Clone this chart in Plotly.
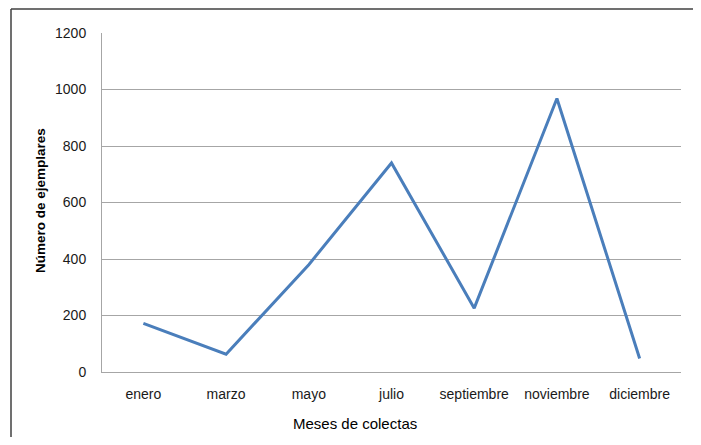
import plotly.graph_objects as go

meses = ["enero", "marzo", "mayo", "julio", "septiembre", "noviembre", "diciembre"]
ejemplares = [172, 63, 380, 740, 226, 968, 48]
y_ticks = [0, 200, 400, 600, 800, 1000, 1200]

W, H = 693, 429
L, R, T, B = 94, 20, 25, 65
pw, ph = W - L - R, H - T - B

def px(x):
    return (x - 8 - L) / pw

def py(y):
    return (H - B - (y - 8)) / ph

fig = go.Figure()
fig.add_trace(go.Scatter(
    x=meses, y=ejemplares, mode="lines",
    line=dict(color="#4A7EBB", width=3),
    showlegend=False,
))

border = dict(color="#404040", width=1.5)
bx0, bx1, by0, by1 = px(11), px(696), py(460), py(9)
shapes = [
    dict(type="line", xref="paper", yref="paper", x0=bx0, x1=bx1, y0=by1, y1=by1, line=border, layer="above"),
    dict(type="line", xref="paper", yref="paper", x0=bx0, x1=bx0, y0=by0, y1=by1, line=border, layer="above"),
    dict(type="line", xref="paper", yref="paper", x0=bx1, x1=bx1, y0=by0, y1=by1, line=border, layer="above"),
]

fig.update_layout(
    width=W, height=H,
    margin=dict(l=L, r=R, t=T, b=B),
    paper_bgcolor="white", plot_bgcolor="white",
    font=dict(family="Liberation Sans, Arial, sans-serif", color="#1a1a1a"),
    xaxis=dict(
        type="category", range=[-0.5, 6.5],
        showgrid=False, showline=True, linecolor="#a6a6a6", linewidth=1,
        ticks="outside", ticklen=9, tickcolor="rgba(0,0,0,0)",
        tickfont=dict(size=14),
        zeroline=False,
    ),
    yaxis=dict(
        range=[0, 1200], tickvals=y_ticks,
        showgrid=True, gridcolor="#a6a6a6", gridwidth=1,
        showline=True, linecolor="#a6a6a6", linewidth=1,
        ticks="outside", ticklen=12, tickcolor="rgba(0,0,0,0)",
        tickfont=dict(size=14),
        zeroline=False,
    ),
    shapes=shapes,
    annotations=[
        dict(text="Meses de colectas", xref="paper", yref="paper",
             x=px(354.7), y=py(423), showarrow=False,
             font=dict(size=15, color="#000000"), xanchor="center", yanchor="middle"),
        dict(text="<b>Número de ejemplares</b>", xref="paper", yref="paper",
             x=px(40), y=py(201), showarrow=False, textangle=-90,
             font=dict(size=13.5, color="#000000"), xanchor="center", yanchor="middle"),
    ],
)

fig.write_html("out.html")
